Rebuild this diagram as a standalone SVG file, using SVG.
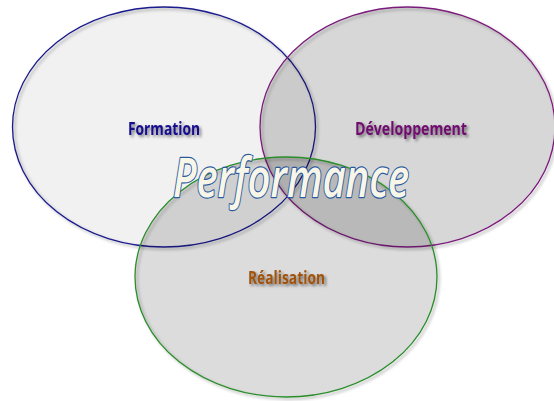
<svg xmlns="http://www.w3.org/2000/svg" width="554" height="401" viewBox="0 0 554 401">
<defs>
<filter id="sh" x="-10%" y="-10%" width="120%" height="120%">
<feGaussianBlur in="SourceAlpha" stdDeviation="1.5" result="b"/>
<feOffset dx="2" dy="2" result="o"/>
<feComponentTransfer in="o" result="s"><feFuncA type="linear" slope="0.35"/></feComponentTransfer>
<feMerge><feMergeNode in="s"/><feMergeNode in="SourceGraphic"/></feMerge>
</filter>
<filter id="tsh" x="-10%" y="-30%" width="130%" height="170%">
<feGaussianBlur in="SourceAlpha" stdDeviation="1.6" result="b"/>
<feOffset dx="2" dy="2" result="o"/>
<feComponentTransfer in="o" result="s"><feFuncA type="linear" slope="0.5"/></feComponentTransfer>
<feMerge><feMergeNode in="s"/><feMergeNode in="SourceGraphic"/></feMerge>
</filter>
<style>
.ring{stroke-width:1.3}
.lbl{font-family:"Open Sans","Noto Sans","Liberation Sans",sans-serif;font-weight:bold;font-size:17px;text-anchor:middle}
.perf{font-family:"Open Sans","Noto Sans","Liberation Sans",sans-serif;font-style:italic;font-weight:600;font-size:54px;fill:#f8f6e8;stroke:#2a5a9e;stroke-width:2.4;paint-order:stroke;stroke-linejoin:round;text-anchor:middle}
</style>
</defs>
<rect width="554" height="401" fill="#ffffff"/>
<g id="formation" filter="url(#sh)">
<ellipse class="ring" cx="164" cy="127" rx="151.5" ry="120" fill="#000" fill-opacity="0.045" stroke="#1a1a8c"/>
</g>
<g id="developpement" filter="url(#sh)">
<ellipse class="ring" cx="407.5" cy="127" rx="147.5" ry="120" fill="#000" fill-opacity="0.12" stroke="#7a1a7a"/>
</g>
<g id="realisation" filter="url(#sh)">
<ellipse class="ring" cx="286" cy="277" rx="151" ry="120" fill="#000" fill-opacity="0.105" stroke="#2a8c2a"/>
</g>
<g id="connectors"/>
<g id="labels" filter="url(#tsh)">
<text class="lbl" x="164" y="135" fill="#140a8c" textLength="72" lengthAdjust="spacingAndGlyphs">Formation</text>
<text class="lbl" x="411" y="135" fill="#6e0a6e" textLength="112" lengthAdjust="spacingAndGlyphs">Développement</text>
<text class="lbl" x="286.5" y="284" fill="#a0520f" textLength="77" lengthAdjust="spacingAndGlyphs">Réalisation</text>
</g>
<g id="performance">
<text class="perf" x="291" y="197" textLength="236" lengthAdjust="spacingAndGlyphs">Performance</text>
</g>
</svg>
